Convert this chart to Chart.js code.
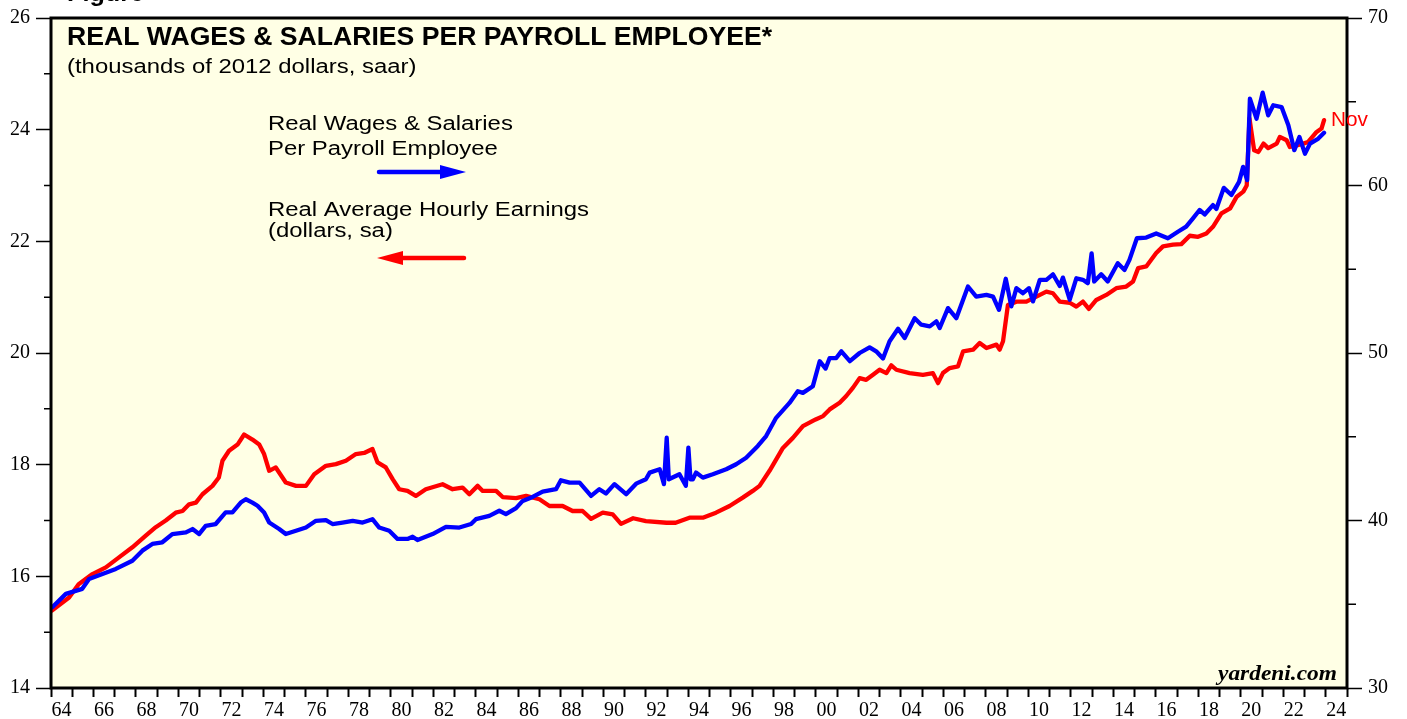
<!DOCTYPE html>
<html><head><meta charset="utf-8">
<script src="https://cdn.jsdelivr.net/npm/chart.js@4.4.0/dist/chart.umd.min.js"></script>
<style>html,body{margin:0;padding:0;background:#fff;}#wrap{position:relative;width:1407px;height:719px;}</style>
</head><body><div id="wrap"><canvas id="c"></canvas></div>
<script>
// Real average hourly earnings (2012 dollars, sa) - left axis
const redYears = [1964.06,1964.85,1965.3,1965.95,1966.58,1967.2,1967.83,1968.46,1968.93,1969.4,1969.87,1970.19,1970.5,1970.82,1971.13,1971.6,1971.9,1972.07,1972.38,1972.78,1973.09,1973.48,1973.8,1974.03,1974.27,1974.58,1975.05,1975.53,1976.0,1976.39,1976.94,1977.41,1977.88,1978.35,1978.74,1979.13,1979.37,1979.76,1980.08,1980.39,1980.78,1981.17,1981.64,1982.43,1982.9,1983.37,1983.69,1984.08,1984.32,1984.95,1985.26,1985.89,1986.36,1986.99,1987.46,1988.08,1988.55,1989.02,1989.42,1989.97,1990.44,1990.83,1991.4,1992.0,1992.97,1993.4,1994.05,1994.68,1995.3,1995.94,1996.56,1997.03,1997.35,1997.82,1998.45,1998.92,1999.39,1999.99,2000.34,2000.65,2001.12,2001.43,2001.75,2002.06,2002.37,2002.69,2003.0,2003.32,2003.55,2003.79,2004.41,2005.04,2005.51,2005.75,2005.98,2006.3,2006.69,2006.93,2007.4,2007.71,2008.03,2008.5,2008.65,2008.81,2009.04,2009.44,2009.91,2010.38,2010.85,2011.16,2011.48,2011.95,2012.26,2012.57,2012.85,2013.2,2013.67,2014.14,2014.61,2014.93,2015.17,2015.55,2016.02,2016.34,2016.81,2017.2,2017.6,2017.99,2018.38,2018.69,2019.09,2019.5,2019.81,2020.12,2020.28,2020.41,2020.63,2020.83,2021.07,2021.29,2021.69,2021.84,2022.16,2022.31,2022.63,2022.94,2023.17,2023.57,2023.8,2023.92];
const redValues = [15.39,15.62,15.86,16.04,16.16,16.34,16.52,16.73,16.88,17.00,17.14,17.17,17.29,17.32,17.47,17.62,17.77,18.07,18.25,18.36,18.54,18.45,18.36,18.19,17.89,17.95,17.68,17.62,17.62,17.83,17.98,18.01,18.07,18.19,18.21,18.28,18.04,17.95,17.74,17.56,17.53,17.44,17.56,17.65,17.56,17.59,17.47,17.62,17.53,17.53,17.42,17.40,17.44,17.38,17.26,17.26,17.17,17.17,17.03,17.14,17.11,16.94,17.04,16.99,16.96,16.96,17.05,17.05,17.14,17.26,17.41,17.53,17.62,17.89,18.30,18.48,18.69,18.81,18.87,18.99,19.11,19.23,19.38,19.55,19.52,19.61,19.70,19.64,19.78,19.70,19.64,19.61,19.64,19.46,19.64,19.73,19.76,20.03,20.06,20.18,20.09,20.15,20.06,20.21,20.86,20.92,20.92,21.01,21.10,21.07,20.92,20.90,20.83,20.92,20.79,20.95,21.04,21.16,21.19,21.28,21.52,21.55,21.79,21.91,21.94,21.95,22.10,22.08,22.14,22.26,22.50,22.59,22.80,22.89,23.00,24.20,23.63,23.60,23.75,23.67,23.75,23.87,23.81,23.69,23.72,23.75,23.78,23.96,24.02,24.17];

// Real wages & salaries per payroll employee (thousands of 2012 dollars) - right axis
const blueYears = [1964.06,1964.7,1965.47,1965.79,1966.42,1967.05,1967.83,1968.3,1968.77,1969.24,1969.71,1970.35,1970.66,1970.97,1971.28,1971.75,1972.22,1972.54,1972.93,1973.17,1973.48,1973.72,1974.03,1974.27,1974.74,1975.05,1975.53,1976.0,1976.47,1976.94,1977.25,1977.72,1978.2,1978.67,1979.13,1979.45,1979.92,1980.31,1980.78,1981.02,1981.25,1981.96,1982.59,1983.22,1983.77,1984.0,1984.63,1985.1,1985.41,1985.89,1986.2,1986.67,1987.14,1987.77,1988.0,1988.41,1988.88,1989.42,1989.81,1990.12,1990.52,1991.07,1991.54,1992.0,1992.18,1992.65,1992.85,1992.98,1993.08,1993.58,1993.88,1994.0,1994.1,1994.21,1994.36,1994.68,1995.15,1995.78,1996.25,1996.72,1997.27,1997.66,1998.13,1998.76,1999.15,1999.39,1999.86,2000.18,2000.46,2000.65,2000.96,2001.2,2001.6,2002.06,2002.53,2002.84,2003.16,2003.47,2003.87,2004.18,2004.65,2004.96,2005.36,2005.67,2005.83,2006.22,2006.61,2007.16,2007.55,2008.03,2008.34,2008.62,2008.94,2009.2,2009.44,2009.75,2010.03,2010.22,2010.54,2010.85,2011.16,2011.48,2011.63,2011.95,2012.26,2012.57,2012.8,2012.98,2013.1,2013.43,2013.74,2014.21,2014.53,2014.76,2015.11,2015.55,2016.02,2016.57,2017.04,2017.43,2017.75,2018.06,2018.3,2018.69,2018.85,2019.2,2019.56,2019.92,2020.11,2020.3,2020.43,2020.74,2021.03,2021.29,2021.53,2021.92,2022.24,2022.52,2022.76,2023.02,2023.26,2023.65,2023.92];
const blueValues = [34.82,35.62,35.92,36.51,36.81,37.11,37.60,38.20,38.60,38.70,39.19,39.29,39.49,39.19,39.68,39.79,40.48,40.48,41.07,41.27,41.07,40.88,40.48,39.88,39.49,39.19,39.39,39.58,39.98,40.02,39.79,39.88,39.98,39.88,40.08,39.58,39.39,38.90,38.90,39.03,38.83,39.19,39.62,39.58,39.79,40.08,40.28,40.58,40.38,40.74,41.17,41.41,41.73,41.87,42.40,42.26,42.26,41.47,41.87,41.61,42.17,41.57,42.20,42.46,42.86,43.06,42.17,44.94,42.46,42.76,42.07,44.35,42.46,42.46,42.86,42.56,42.76,43.06,43.36,43.75,44.45,45.04,46.13,47.02,47.72,47.62,48.02,49.51,49.07,49.70,49.70,50.10,49.51,50.00,50.34,50.10,49.67,50.70,51.45,50.90,52.08,51.69,51.59,51.89,51.49,52.68,52.08,53.97,53.37,53.47,53.37,52.58,54.43,52.78,53.87,53.57,53.87,53.08,54.37,54.37,54.70,54.00,54.50,53.18,54.46,54.37,54.17,55.95,54.27,54.70,54.27,55.36,54.96,55.56,56.85,56.89,57.14,56.85,57.24,57.54,58.04,58.54,58.27,58.83,58.60,59.86,59.43,60.22,61.11,60.32,65.18,63.99,65.54,64.19,64.79,64.68,63.60,62.11,62.90,61.90,62.50,62.80,63.15];

const leftMinorTicks = [15,17,19,21,23,25];
const rightMinorTicks = [35,45,55,65];

const TITLE = 'REAL WAGES & SALARIES PER PAYROLL EMPLOYEE*';
const SUBTITLE = '(thousands of 2012 dollars, saar)';
const LEGEND_BLUE = ['Real Wages & Salaries', 'Per Payroll Employee'];
const LEGEND_RED = ['Real Average Hourly Earnings', '(dollars, sa)'];
const LAST_LABEL = 'Nov';
const SOURCE = 'yardeni.com';
const FIG = 'Figure';

const SANS = '"Liberation Sans", Arial, sans-serif';
const SERIF = '"Liberation Serif", "Times New Roman", serif';

function txt(ctx, s, x, y, font, color, sx) {
  ctx.save();
  ctx.font = font; ctx.fillStyle = color; ctx.textAlign = 'left'; ctx.textBaseline = 'alphabetic';
  ctx.translate(x, y); ctx.scale(sx, 1); ctx.fillText(s, 0, 0);
  ctx.restore();
}

const decor = {
  id: 'decor',
  beforeDraw(chart) {
    const {ctx, chartArea: a} = chart;
    ctx.save(); ctx.fillStyle = '#FFFFE5';
    ctx.fillRect(a.left, a.top, a.right - a.left, a.bottom - a.top); ctx.restore();
  },
  afterDraw(chart) {
    const {ctx, chartArea: a} = chart;
    ctx.save();
    ctx.strokeStyle = '#000'; ctx.lineWidth = 1.5;
    const yL = chart.scales.yL, yR = chart.scales.yR;
    ctx.beginPath();
    leftMinorTicks.forEach(v => { const y = yL.getPixelForValue(v); ctx.moveTo(a.left - 7, y); ctx.lineTo(a.left, y); });
    rightMinorTicks.forEach(v => { const y = yR.getPixelForValue(v); ctx.moveTo(a.right, y); ctx.lineTo(a.right + 9, y); });
    ctx.stroke();
    ctx.lineWidth = 3; ctx.strokeStyle = '#000';
    ctx.strokeRect(a.left, a.top, a.right - a.left, a.bottom - a.top);
    ctx.restore();

    txt(ctx, FIG, 67, 1, 'bold 24px ' + SANS, '#000', 1.05);
    txt(ctx, TITLE, 67, 44.5, 'bold 25px ' + SANS, '#000', 1.064);
    txt(ctx, SUBTITLE, 67, 73, '20px ' + SANS, '#000', 1.195);
    txt(ctx, LEGEND_BLUE[0], 268, 129.5, '20px ' + SANS, '#000', 1.195);
    txt(ctx, LEGEND_BLUE[1], 268, 154.5, '20px ' + SANS, '#000', 1.195);
    txt(ctx, LEGEND_RED[0], 268, 215.5, '20px ' + SANS, '#000', 1.195);
    txt(ctx, LEGEND_RED[1], 268, 237, '20px ' + SANS, '#000', 1.195);
    txt(ctx, LAST_LABEL, 1331, 126, '20px ' + SANS, '#FF0000', 1.04);
    txt(ctx, SOURCE, 1218, 680, 'bold italic 20px ' + SERIF, '#000', 1.17);

    ctx.save();
    ctx.lineCap = 'round'; ctx.lineWidth = 4.5;
    ctx.strokeStyle = '#0000FF'; ctx.fillStyle = '#0000FF';
    ctx.beginPath(); ctx.moveTo(379, 172); ctx.lineTo(445, 172); ctx.stroke();
    ctx.beginPath(); ctx.moveTo(440, 165); ctx.lineTo(466, 172); ctx.lineTo(440, 179); ctx.closePath(); ctx.fill();
    ctx.strokeStyle = '#FF0000'; ctx.fillStyle = '#FF0000';
    ctx.beginPath(); ctx.moveTo(398, 258); ctx.lineTo(464, 258); ctx.stroke();
    ctx.beginPath(); ctx.moveTo(377, 258); ctx.lineTo(403, 251); ctx.lineTo(403, 265); ctx.closePath(); ctx.fill();
    ctx.restore();
  }
};

const blueData = blueYears.map((x, i) => ({x, y: blueValues[i]}));
const redData = redYears.map((x, i) => ({x, y: redValues[i]}));

new Chart(document.getElementById('c'), {
  type: 'line',
  data: {
    datasets: [
      { label: LEGEND_BLUE.join(' '), data: blueData, yAxisID: 'yR', borderColor: '#0000FF', borderWidth: 4.3, borderJoinStyle: 'round', borderCapStyle: 'round', pointRadius: 0, tension: 0, fill: false },
      { label: LEGEND_RED.join(' '), data: redData, yAxisID: 'yL', borderColor: '#FF0000', borderWidth: 4.3, borderJoinStyle: 'round', borderCapStyle: 'round', pointRadius: 0, tension: 0, fill: false }
    ]
  },
  options: {
    responsive: true, maintainAspectRatio: false, animation: false,
    layout: { padding: { top: 16, left: 0, right: 0, bottom: 0 } },
    plugins: { legend: { display: false }, tooltip: { enabled: false }, title: { display: false } },
    scales: {
      x: {
        type: 'linear', min: 1964, max: 2025, position: 'bottom',
        afterFit: s => { s.height = 31; },
        border: { display: false },
        grid: { drawOnChartArea: false, drawTicks: true, tickLength: 9, tickWidth: 2, tickColor: '#000' },
        ticks: { stepSize: 1, autoSkip: false, maxRotation: 0, minRotation: 0, padding: 2, labelOffset: 10.6,
          color: '#000', font: { family: SERIF, size: 20 },
          callback: v => (v % 2 === 0 ? String(v).slice(-2) : '') }
      },
      yL: {
        type: 'linear', position: 'left', min: 14, max: 26,
        afterFit: s => { s.width = 51; },
        border: { display: false },
        grid: { drawOnChartArea: false, drawTicks: true, tickLength: 15, tickWidth: 1.5, tickColor: '#000' },
        ticks: { stepSize: 2, padding: 6, color: '#000', font: { family: SERIF, size: 20 } }
      },
      yR: {
        type: 'linear', position: 'right', min: 30, max: 70,
        afterFit: s => { s.width = 60; },
        border: { display: false },
        grid: { drawOnChartArea: false, drawTicks: true, tickLength: 15, tickWidth: 1.5, tickColor: '#000' },
        ticks: { stepSize: 10, padding: 6, color: '#000', font: { family: SERIF, size: 20 } }
      }
    }
  },
  plugins: [decor]
});
</script></body></html>
